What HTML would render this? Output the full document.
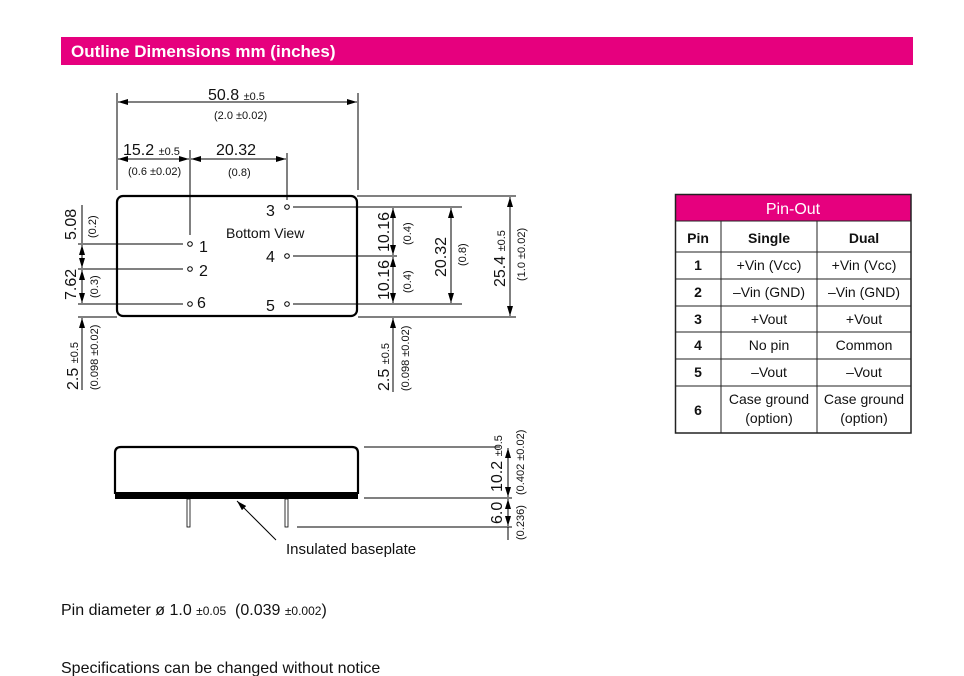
<!DOCTYPE html>
<html><head><meta charset="utf-8"><style>
body{margin:0;background:#fff;width:964px;height:676px;overflow:hidden;font-family:"Liberation Sans",sans-serif}
svg{position:absolute;left:0;top:0}
text{font-family:"Liberation Sans",sans-serif;fill:#111}
</style></head><body>
<svg width="964" height="676" viewBox="0 0 964 676">
<defs>
<marker id="a" viewBox="0 0 10 6" refX="10" refY="3" markerWidth="10" markerHeight="6" orient="auto-start-reverse" markerUnits="userSpaceOnUse"><path d="M0,0 L10,3 L0,6z" fill="#000"/></marker>
</defs>
<rect x="61" y="37" width="852" height="28" fill="#e6007e"/>
<text x="71" y="57" font-size="17" font-weight="bold" style="fill:#fff">Outline Dimensions mm (inches)</text>

<g stroke="#000" stroke-width="1" fill="none">
<rect x="117" y="196" width="240" height="120" rx="6" stroke-width="2.2"/>
<line x1="117" y1="93" x2="117" y2="190"/><line x1="358" y1="93" x2="358" y2="190"/>
<line x1="118" y1="102" x2="357" y2="102" marker-start="url(#a)" marker-end="url(#a)"/>
<line x1="118" y1="159" x2="189" y2="159" marker-start="url(#a)" marker-end="url(#a)"/>
<line x1="191" y1="159" x2="286" y2="159" marker-start="url(#a)" marker-end="url(#a)"/>
<line x1="190" y1="150" x2="190" y2="235"/>
<line x1="287" y1="153" x2="287" y2="200"/>
<line x1="78" y1="244" x2="183" y2="244"/>
<line x1="78" y1="269" x2="183" y2="269"/>
<line x1="78" y1="304" x2="183" y2="304"/>
<line x1="78" y1="317" x2="117" y2="317"/>
<line x1="82" y1="245" x2="82" y2="268" marker-start="url(#a)" marker-end="url(#a)"/>
<line x1="82" y1="270" x2="82" y2="303" marker-start="url(#a)" marker-end="url(#a)"/>
<line x1="82" y1="205" x2="82" y2="243"/>
<line x1="82" y1="318" x2="82" y2="390" marker-start="url(#a)"/>
<line x1="293" y1="207" x2="462" y2="207"/>
<line x1="357" y1="196" x2="516" y2="196"/>
<line x1="293" y1="256" x2="397" y2="256"/>
<line x1="293" y1="304" x2="462" y2="304"/>
<line x1="358" y1="317" x2="516" y2="317"/>
<line x1="393" y1="208" x2="393" y2="255" marker-start="url(#a)" marker-end="url(#a)"/>
<line x1="393" y1="257" x2="393" y2="303" marker-start="url(#a)" marker-end="url(#a)"/>
<line x1="393" y1="318" x2="393" y2="392" marker-start="url(#a)"/>
<line x1="451" y1="208" x2="451" y2="303" marker-start="url(#a)" marker-end="url(#a)"/>
<line x1="510" y1="197" x2="510" y2="316" marker-start="url(#a)" marker-end="url(#a)"/>
<circle cx="190" cy="244" r="2.3"/><circle cx="190" cy="269" r="2.3"/><circle cx="190" cy="304" r="2.3"/>
<circle cx="287" cy="207" r="2.3"/><circle cx="287" cy="256" r="2.3"/><circle cx="287" cy="304" r="2.3"/>
<path d="M115,494 L115,453 Q115,447 121,447 L352,447 Q358,447 358,453 L358,494" stroke-width="2.2"/>
<rect x="187" y="499" width="3" height="28" stroke-width="0.8"/>
<rect x="285" y="499" width="3" height="28" stroke-width="0.8"/>
<line x1="364" y1="447" x2="500" y2="447"/>
<line x1="364" y1="498" x2="512" y2="498"/>
<line x1="297" y1="527" x2="512" y2="527"/>
<line x1="508" y1="448" x2="508" y2="497" marker-start="url(#a)" marker-end="url(#a)"/>
<line x1="508" y1="499" x2="508" y2="526" marker-start="url(#a)" marker-end="url(#a)"/>
<line x1="508" y1="527" x2="508" y2="540"/>
<line x1="276" y1="540" x2="237" y2="501" marker-end="url(#a)"/>
</g>
<rect x="115" y="492" width="243" height="7" fill="#000"/>

<g font-size="16">
<text x="208" y="100">50.8 <tspan font-size="11">±0.5</tspan></text>
<text x="214" y="119" font-size="11">(2.0 ±0.02)</text>
<text x="123" y="155">15.2 <tspan font-size="11">±0.5</tspan></text>
<text x="128" y="175" font-size="11">(0.6 ±0.02)</text>
<text x="216" y="155">20.32</text>
<text x="228" y="176" font-size="11">(0.8)</text>
<text x="266" y="216">3</text>
<text x="226" y="238" font-size="14">Bottom View</text>
<text x="199" y="252">1</text>
<text x="199" y="276">2</text>
<text x="197" y="308">6</text>
<text x="266" y="262">4</text>
<text x="266" y="311">5</text>
<text x="286" y="554" font-size="15">Insulated baseplate</text>
</g>
<g font-size="16">
<text transform="translate(76,240) rotate(-90)">5.08</text>
<text transform="translate(96,238) rotate(-90)" font-size="11">(0.2)</text>
<text transform="translate(76,300) rotate(-90)">7.62</text>
<text transform="translate(98,298) rotate(-90)" font-size="11">(0.3)</text>
<text transform="translate(78,390) rotate(-90)">2.5 <tspan font-size="11">±0.5</tspan></text>
<text transform="translate(98,390) rotate(-90)" font-size="11">(0.098 ±0.02)</text>
<text transform="translate(389,252) rotate(-90)">10.16</text>
<text transform="translate(411,245) rotate(-90)" font-size="11">(0.4)</text>
<text transform="translate(389,300) rotate(-90)">10.16</text>
<text transform="translate(411,293) rotate(-90)" font-size="11">(0.4)</text>
<text transform="translate(446,277) rotate(-90)">20.32</text>
<text transform="translate(466,266) rotate(-90)" font-size="11">(0.8)</text>
<text transform="translate(505,287) rotate(-90)">25.4 <tspan font-size="11">±0.5</tspan></text>
<text transform="translate(525,281) rotate(-90)" font-size="11">(1.0 ±0.02)</text>
<text transform="translate(389,391) rotate(-90)">2.5 <tspan font-size="11">±0.5</tspan></text>
<text transform="translate(409,391) rotate(-90)" font-size="11">(0.098 ±0.02)</text>
<text transform="translate(502,492) rotate(-90)">10.2 <tspan font-size="11">±0.5</tspan></text>
<text transform="translate(524,495) rotate(-90)" font-size="11">(0.402 ±0.02)</text>
<text transform="translate(502,524) rotate(-90)">6.0</text>
<text transform="translate(524,540) rotate(-90)" font-size="11">(0.236)</text>
</g>

<text x="61" y="615" font-size="16" xml:space="preserve">Pin diameter ø 1.0 <tspan font-size="12">±0.05</tspan>  (0.039 <tspan font-size="12">±0.002</tspan>)</text>
<text x="61" y="673" font-size="16">Specifications can be changed without notice</text>

<rect x="676" y="194" width="235" height="27" fill="#e6007e"/>
<text x="793" y="214" font-size="16" text-anchor="middle" style="fill:#fff">Pin-Out</text>
<g stroke="#222" stroke-width="1" fill="none">
<rect x="675.5" y="194.5" width="235.5" height="238.5" stroke-width="1.5"/>
<line x1="721" y1="221" x2="721" y2="433"/><line x1="817" y1="221" x2="817" y2="433"/>
<line x1="676" y1="221" x2="911" y2="221"/>
<line x1="676" y1="252" x2="911" y2="252"/>
<line x1="676" y1="279" x2="911" y2="279"/>
<line x1="676" y1="306" x2="911" y2="306"/>
<line x1="676" y1="332" x2="911" y2="332"/>
<line x1="676" y1="359" x2="911" y2="359"/>
<line x1="676" y1="386" x2="911" y2="386"/>
</g>
<g font-size="14" text-anchor="middle">
<text x="698" y="243" font-weight="bold">Pin</text><text x="769" y="243" font-weight="bold">Single</text><text x="864" y="243" font-weight="bold">Dual</text>
<text x="698" y="270" font-weight="bold">1</text><text x="769" y="270">+Vin (Vcc)</text><text x="864" y="270">+Vin (Vcc)</text>
<text x="698" y="297" font-weight="bold">2</text><text x="769" y="297">–Vin (GND)</text><text x="864" y="297">–Vin (GND)</text>
<text x="698" y="324" font-weight="bold">3</text><text x="769" y="324">+Vout</text><text x="864" y="324">+Vout</text>
<text x="698" y="350" font-weight="bold">4</text><text x="769" y="350">No pin</text><text x="864" y="350">Common</text>
<text x="698" y="377" font-weight="bold">5</text><text x="769" y="377">–Vout</text><text x="864" y="377">–Vout</text>
<text x="698" y="415" font-weight="bold">6</text><text x="769" y="404">Case ground</text><text x="864" y="404">Case ground</text>
<text x="769" y="423">(option)</text><text x="864" y="423">(option)</text>
</g>
</svg>
</body></html>
